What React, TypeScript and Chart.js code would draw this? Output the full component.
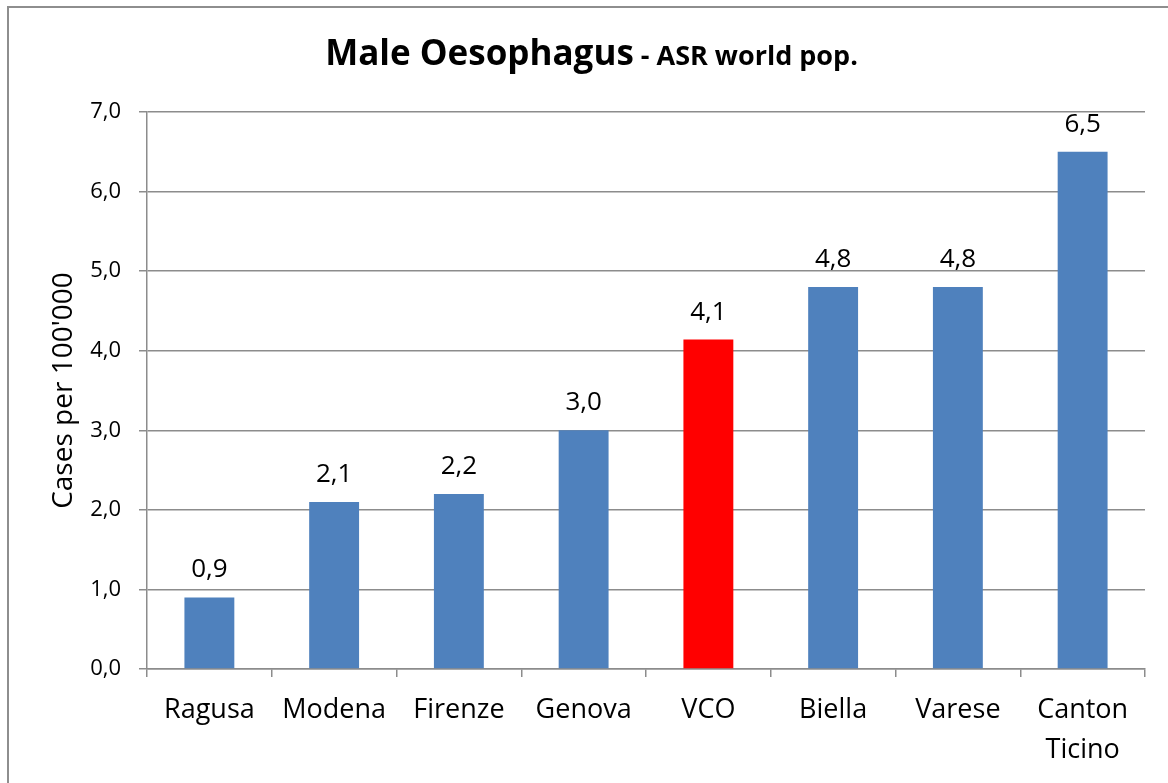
import React, { useEffect, useRef } from "react";
import { Chart, registerables } from "chart.js";

Chart.register(...registerables);

const categories: (string | string[])[] = [
  "Ragusa",
  "Modena",
  "Firenze",
  "Genova",
  "VCO",
  "Biella",
  "Varese",
  ["Canton", "Ticino"],
];
const values = [0.9, 2.1, 2.2, 3.0, 4.14, 4.8, 4.8, 6.5];
const highlightCategory = "VCO";
const titleMain = "Male Oesophagus";
const titleSub = " - ASR world pop.";
const yAxisTitle = "Cases per 100'000";
const yMin = 0;
const yMax = 7;
const yStep = 1;

const FONT = "'Open Sans', 'Noto Sans', sans-serif";
const BLUE = "#4F81BD";
const RED = "#FF0000";
const GRID = "#8c8c8c";

const fmt = (v: number) => v.toFixed(1).replace(".", ",");

const titlePlugin = {
  id: "mixedTitle",
  afterDraw(chart: any) {
    const ctx = chart.ctx;
    ctx.save();
    const mainFont = `bold 35px ${FONT}`;
    const subFont = `bold 27px ${FONT}`;
    ctx.font = mainFont;
    const w1 = ctx.measureText(titleMain).width;
    ctx.font = subFont;
    const w2 = ctx.measureText(titleSub).width;
    const total = w1 + w2;
    const cx = chart.width / 2 + 3;
    const x0 = cx - total / 2;
    const baseY = 57;
    ctx.fillStyle = "#000";
    ctx.textBaseline = "alphabetic";
    ctx.textAlign = "left";
    ctx.font = mainFont;
    ctx.fillText(titleMain, x0, baseY);
    ctx.font = subFont;
    ctx.fillText(titleSub, x0 + w1, baseY);
    ctx.restore();
  },
};

const valueLabelPlugin = {
  id: "valueLabels",
  afterDatasetsDraw(chart: any) {
    const ctx = chart.ctx;
    const meta = chart.getDatasetMeta(0);
    const data = chart.data.datasets[0].data as number[];
    ctx.save();
    ctx.font = `26px ${FONT}`;
    ctx.fillStyle = "#000";
    ctx.textAlign = "center";
    ctx.textBaseline = "alphabetic";
    meta.data.forEach((bar: any, i: number) => {
      ctx.fillText(fmt(data[i]), bar.x, bar.y - 20);
    });
    ctx.restore();
  },
};

export default function App() {
  const canvasRef = useRef<HTMLCanvasElement | null>(null);

  useEffect(() => {
    if (!canvasRef.current) return;
    const colors = categories.map((c) =>
      (Array.isArray(c) ? c.join(" ") : c) === highlightCategory ? RED : BLUE
    );
    const chart = new Chart(canvasRef.current, {
      type: "bar",
      data: {
        labels: categories,
        datasets: [
          {
            data: values,
            backgroundColor: colors,
            borderWidth: 0,
            barPercentage: 0.4,
            categoryPercentage: 1,
          },
        ],
      },
      options: {
        animation: false,
        responsive: false,
        maintainAspectRatio: false,
        layout: { padding: { top: 104, right: 23, bottom: 0, left: 0 } },
        plugins: {
          legend: { display: false },
          title: { display: false },
          tooltip: { enabled: false },
        },
        scales: {
          x: {
            grid: {
              display: true,
              drawOnChartArea: false,
              drawTicks: true,
              tickLength: 8,
              color: GRID,
              lineWidth: 1.5,
            },
            border: { display: true, color: GRID, width: 1.5 },
            ticks: {
              color: "#000",
              font: { family: FONT, size: 27, lineHeight: 1.48 },
              padding: 13,
              maxRotation: 0,
              autoSkip: false,
            },
            afterFit: (s: any) => {
              s.height = 114;
            },
          },
          y: {
            min: yMin,
            max: yMax,
            ticks: {
              stepSize: yStep,
              callback: (v: any) => fmt(Number(v)),
              padding: 18,
              color: "#000",
              font: { family: FONT, size: 22 },
            },
            grid: { color: GRID, tickLength: 8, lineWidth: 1.5 },
            border: { display: true, color: GRID, width: 1.5 },
            title: {
              display: true,
              text: yAxisTitle,
              color: "#000",
              font: { family: FONT, size: 28 },
              padding: { top: 38, bottom: 0 },
            },
            afterFit: (s: any) => {
              s.width = 138;
            },
          },
        },
      },
      plugins: [titlePlugin, valueLabelPlugin],
    });
    return () => chart.destroy();
  }, []);

  return (
    <div
      style={{
        position: "fixed",
        left: 0,
        top: 0,
        width: 1168,
        height: 783,
        overflow: "hidden",
        background: "#fff",
      }}
    >
      <div
        style={{
          position: "absolute",
          left: 7,
          top: 6,
          width: 1200,
          height: 820,
          border: "2px solid #8e8e8e",
          background: "#fff",
        }}
      >
        <canvas
          ref={canvasRef}
          width={1159}
          height={775}
          style={{ display: "block", width: 1159, height: 775 }}
        />
      </div>
    </div>
  );
}
